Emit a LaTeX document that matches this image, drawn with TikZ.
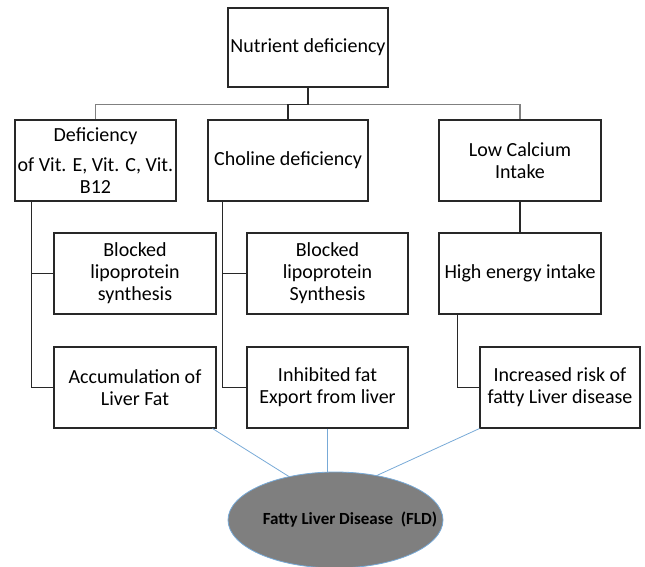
\documentclass[tikz,border=0pt]{standalone}
\usepackage{fontspec}
\setmainfont{Carlito}
\usetikzlibrary{shapes.geometric,calc}
\definecolor{edge}{RGB}{40,40,40}
\definecolor{busgray}{RGB}{128,128,128}
\definecolor{fldblue}{RGB}{120,170,215}
\definecolor{fldfill}{RGB}{127,127,127}
\begin{document}
\begin{tikzpicture}[x=1pt,y=-1pt,
  box/.style={draw=edge,line width=1.1pt,fill=white,inner sep=0pt,align=center,
    font=\fontsize{20}{22}\selectfont,minimum height=81pt},
  link/.style={draw=edge,line width=1.1pt},
  bus/.style={draw=busgray,line width=1.2pt},
  tofld/.style={draw=fldblue,line width=0.8pt}]
\useasboundingbox (0,0) rectangle (645,567);
\node[box,minimum width=160pt,minimum height=79pt] (top) at (308,47.5) {Nutrient deficiency};
\node[box,minimum width=161pt] (defv) at (95.5,160.5) {Deficiency\\[8pt]of Vit. E, Vit. C, Vit.\\B12};
\node[box,minimum width=160pt] (chol) at (288,160.5) {Choline deficiency};
\node[box,minimum width=162pt] (lowca) at (520,160.5) {Low Calcium\\Intake};
\node[box,minimum width=162pt] (blk1) at (135,273.5) {Blocked\\lipoprotein\\synthesis};
\node[box,minimum width=161pt] (blk2) at (327.5,273.5) {Blocked\\lipoprotein\\Synthesis};
\node[box,minimum width=162pt] (high) at (520,273.5) {High energy intake};
\node[box,minimum width=162pt] (acc) at (135,387.5) {Accumulation of\\Liver Fat};
\node[box,minimum width=161pt] (inh) at (327.5,387.5) {Inhibited fat\\Export from liver};
\node[box,minimum width=160pt] (incr) at (560,387.5) {Increased risk of\\fatty Liver disease};
% connectors
\coordinate (busc) at ($(top.south)+(0,17)$);
\draw[bus] (defv.north) |- (busc) -| (lowca.north);
\draw[link] (top.south) -- (busc) -| (chol.north);
\coordinate (sa) at ($(defv.south west)+(17,0)$);
\draw[link] (sa) |- (blk1.west);
\draw[link] (sa) |- (acc.west);
\coordinate (sb) at ($(chol.south west)+(15,0)$);
\draw[link] (sb) |- (blk2.west);
\draw[link] (sb) |- (inh.west);
\draw[link] (lowca.south) -- (high.north);
\coordinate (sh) at ($(high.south west)+(19,0)$);
\draw[link] (sh) |- (incr.west);
% ellipse
\node[ellipse,draw=fldblue,fill=fldfill,line width=0.8pt,minimum width=215pt,minimum height=96pt,inner sep=0pt] (fld) at (335.5,520) {};
\node[font=\fontsize{17}{20}\selectfont\bfseries,inner sep=0pt] (fldtext) at (350,520) {Fatty Liver Disease\hspace{0.45em}(FLD)};
\draw[tofld] ($(acc.south east)+(-4,0)$) -- (fld.137);
\draw[tofld] (inh.south) -- (inh.south |- fld.north);
\draw[tofld] (incr.south west) -- (fld.47);
\end{tikzpicture}
\end{document}
